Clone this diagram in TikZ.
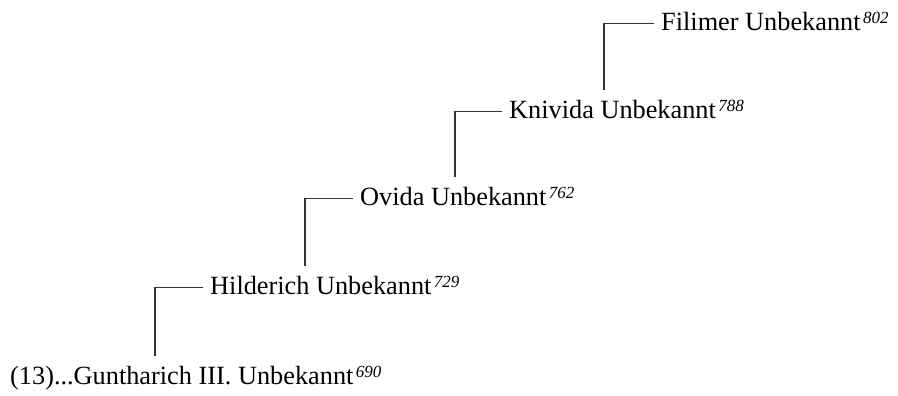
\documentclass[tikz,border=0pt]{standalone}
\usepackage{fontspec}
\setmainfont{Liberation Serif}
\usepackage{tikz}
\newcommand{\born}[1]{\kern2.5pt\raisebox{7.5pt}{\fontsize{17}{18}\selectfont\itshape #1}}

\begin{document}
\begin{tikzpicture}[
  x=1pt, y=1pt,
  person/.style={anchor=base west, inner sep=0pt, font=\fontsize{26.3}{30}\selectfont},
  link/.style={line width=1.2pt, draw=black!80}]
\useasboundingbox (0,0) rectangle (898,396);
% generations, oldest at top right
\node[person] (gun) at (10,11) {(13)...Guntharich III. Unbekannt\born{690}};
\node[person] (hil) at (210,101) {Hilderich Unbekannt\born{729}};
\node[person] (ovi) at (360,190) {Ovida Unbekannt\born{762}};
\node[person] (kni) at (509,277) {Knivida Unbekannt\born{788}};
\node[person] (fil) at (661,365) {Filimer Unbekannt\born{802}};

\draw[link] ([shift={(-7,7.5)}]hil.base west) -| ([shift={(145,28.5)}]gun.base west);
\draw[link] ([shift={(-7,7.5)}]ovi.base west) -| ([shift={(95,28.5)}]hil.base west);
\draw[link] ([shift={(-7,7.5)}]kni.base west) -| ([shift={(95,28.5)}]ovi.base west);
\draw[link] ([shift={(-7,7.5)}]fil.base west) -| ([shift={(95,28.5)}]kni.base west);
\end{tikzpicture}
\end{document}
